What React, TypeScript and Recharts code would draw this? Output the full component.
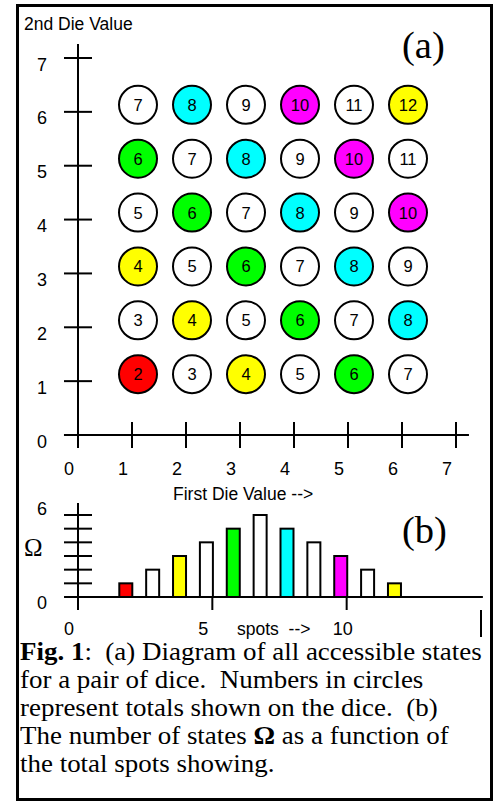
import React from 'react';
import { ScatterChart, Scatter, BarChart, Bar, XAxis, YAxis, ReferenceLine } from 'recharts';

const SANS = '"Liberation Sans", Arial, Helvetica, sans-serif';
const SERIF = '"Liberation Serif", "Times New Roman", serif';

// dice faces along each axis, rows listed from the top
const firstDie = [1, 2, 3, 4, 5, 6];
const secondDie = [6, 5, 4, 3, 2, 1];
const totalsByRow = [
  [7, 8, 9, 10, 11, 12],
  [6, 7, 8, 9, 10, 11],
  [5, 6, 7, 8, 9, 10],
  [4, 5, 6, 7, 8, 9],
  [3, 4, 5, 6, 7, 8],
  [2, 3, 4, 5, 6, 7],
];

// number of states for each total
const spotTotals = [2, 3, 4, 5, 6, 7, 8, 9, 10, 11, 12];
const stateCounts = [1, 2, 3, 4, 5, 6, 5, 4, 3, 2, 1];

const dieTicks = [0, 1, 2, 3, 4, 5, 6, 7];
const omegaTicks = [0, 1, 2, 3, 4, 5, 6];
const spotTicks = [0, 5, 10, 15];

const totalFill: Record<number, string> = {
  2: '#ff0000', 3: '#ffffff', 4: '#ffff00', 5: '#ffffff', 6: '#00ff00', 7: '#ffffff',
  8: '#00ffff', 9: '#ffffff', 10: '#ff00ff', 11: '#ffffff', 12: '#ffff00',
};

const states = secondDie.flatMap((second, r) =>
  firstDie.map((first, c) => ({ first, second, total: totalsByRow[r][c] }))
);
const omega = spotTotals.map((spots, i) => ({ spots, count: stateCounts[i] }));

function StateCircle(props: any) {
  const { cx, cy, payload } = props;
  const px = cx + 6;
  const py = cy - 7;
  return (
    <g>
      <circle cx={px} cy={py} r={19} fill={totalFill[payload.total]} stroke="#000" strokeWidth={2} />
      <text x={px} y={py + 6} textAnchor="middle" fontFamily={SANS} fontSize={16.5} fill="#000">
        {payload.total}
      </text>
    </g>
  );
}

function DieXTick({ x, y, payload }: any) {
  return (
    <g>
      {payload.value > 0 && <line x1={x} x2={x} y1={y - 13} y2={y + 13} stroke="#000" strokeWidth={2} />}
      <text x={x - 14} y={y + 39.5} fontFamily={SANS} fontSize={18} fill="#000">{payload.value}</text>
    </g>
  );
}

function DieYTick({ x, y, payload }: any) {
  return (
    <g>
      <line x1={x - 14} x2={x + 14} y1={y} y2={y} stroke="#000" strokeWidth={2} />
      <text x={x - 36} y={y + 12.5} textAnchor="middle" fontFamily={SANS} fontSize={18} fill="#000">
        {payload.value}
      </text>
    </g>
  );
}

function SpotTick({ x, y, payload }: any) {
  const v = payload.value;
  if (v === spotTicks[spotTicks.length - 1]) {
    return <line x1={x} x2={x} y1={y + 13} y2={y + 40} stroke="#000" strokeWidth={2} />;
  }
  return (
    <g>
      {v > 0 && <line x1={x} x2={x} y1={y} y2={y + 13} stroke="#000" strokeWidth={2} />}
      <text x={x - 14} y={y + 38} fontFamily={SANS} fontSize={18} fill="#000">{v}</text>
    </g>
  );
}

function OmegaTick({ x, y, payload }: any) {
  const v = payload.value;
  return (
    <g>
      {v > 0 && <line x1={x - 14} x2={x + 14} y1={y} y2={y} stroke="#000" strokeWidth={2} />}
      {v === 0 && (
        <text x={x - 36} y={y + 12} textAnchor="middle" fontFamily={SANS} fontSize={18} fill="#000">0</text>
      )}
      {v === 6 && (
        <text x={x - 36} y={y} textAnchor="middle" fontFamily={SANS} fontSize={18} fill="#000">6</text>
      )}
    </g>
  );
}

function OmegaBar(props: any) {
  const { x, y, width, height, payload } = props;
  return (
    <rect x={x - 6} y={y} width={width} height={height} fill={totalFill[payload.spots]} stroke="#000" strokeWidth={2} />
  );
}

export default function App() {
  return (
    <div style={{ position: 'absolute', left: 0, top: 0, width: 495, height: 802, background: '#fff' }}>
      <div
        style={{
          position: 'absolute', left: 16, top: 4, width: 477, height: 797,
          border: '3px solid #000', boxSizing: 'border-box',
        }}
      />

      <div style={{ position: 'absolute', left: 0, top: 0 }}>
        <ScatterChart width={495} height={500} margin={{ top: 58, right: 39, bottom: 64, left: 77 }}>
          <XAxis
            type="number" dataKey="first" domain={[0, 7]} ticks={dieTicks} height={1}
            axisLine={false} tickLine={false} tickSize={0} tickMargin={0} tick={DieXTick}
            interval={0}
          />
          <YAxis
            type="number" dataKey="second" domain={[0, 7]} ticks={dieTicks} width={1}
            axisLine={false} tickLine={false} tickSize={0} tickMargin={0} tick={DieYTick}
            interval={0}
          />
          <ReferenceLine segment={[{ x: 0, y: -0.24 }, { x: 0, y: 7.26 }]} stroke="#000" strokeWidth={2} ifOverflow="visible" />
          <ReferenceLine segment={[{ x: -0.26, y: 0 }, { x: 7.24, y: 0 }]} stroke="#000" strokeWidth={2} ifOverflow="visible" />
          <Scatter data={states} shape={StateCircle} isAnimationActive={false} />
        </ScatterChart>
      </div>

      <div style={{ position: 'absolute', left: 0, top: 480 }}>
        <BarChart width={495} height={170} data={omega} margin={{ top: 35, right: 14, bottom: 52, left: 77 }} barSize={13}>
          <XAxis
            type="number" dataKey="spots" domain={[0, 15]} ticks={spotTicks} height={1}
            axisLine={false} tickLine={false} tickSize={0} tickMargin={0} tick={SpotTick}
            interval={0}
          />
          <YAxis
            type="number" domain={[0, 6]} ticks={omegaTicks} width={1}
            axisLine={false} tickLine={false} tickSize={0} tickMargin={0} tick={OmegaTick}
            interval={0}
          />
          <Bar dataKey="count" shape={OmegaBar} isAnimationActive={false} />
          <ReferenceLine segment={[{ x: 0, y: -0.95 }, { x: 0, y: 6.88 }]} stroke="#000" strokeWidth={2} ifOverflow="visible" />
          <ReferenceLine segment={[{ x: -0.52, y: 0 }, { x: 15.07, y: 0 }]} stroke="#000" strokeWidth={2} ifOverflow="visible" />
        </BarChart>
      </div>

      <svg width={495} height={802} style={{ position: 'absolute', left: 0, top: 0, pointerEvents: 'none' }}>
        <text x={24} y={30} fontFamily={SANS} fontSize={17.5} fill="#000">2nd Die Value</text>
        <text x={402} y={58} fontFamily={SERIF} fontSize={38.5} fill="#000">(a)</text>
        <text x={173} y={500} fontFamily={SANS} fontSize={17.5} fill="#000">First Die Value --&gt;</text>
        <text x={24} y={556} fontFamily={SERIF} fontSize={25} fill="#000">Ω</text>
        <text x={402} y={543} fontFamily={SERIF} fontSize={38.5} fill="#000">(b)</text>
        <text x={237} y={635} fontFamily={SANS} fontSize={17.5} fill="#000" style={{ whiteSpace: 'pre' }}>spots  --&gt;</text>
      </svg>

      <div
        style={{
          position: 'absolute', left: 20, top: 638, fontFamily: SERIF, fontSize: 24.5, lineHeight: '28px',
          whiteSpace: 'pre', transform: 'scaleX(1.1)', transformOrigin: 'left top', color: '#000',
        }}
      >
        <b>Fig. 1</b>{':  (a) Diagram of all accessible states\n'}
        {'for a pair of dice.  Numbers in circles\n'}
        {'represent totals shown on the dice.  (b)\n'}
        {'The number of states '}<b>Ω</b>{' as a function of\n'}
        {'the total spots showing.'}
      </div>
    </div>
  );
}
